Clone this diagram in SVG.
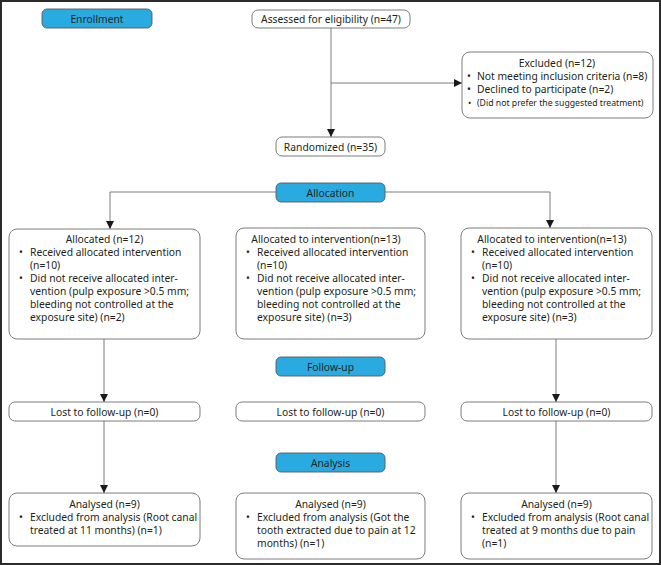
<svg xmlns="http://www.w3.org/2000/svg" width="661" height="565" viewBox="0 0 661 565">
<defs>
<marker id="arr" viewBox="0 0 10 10" refX="10" refY="5" markerWidth="8" markerHeight="8" markerUnits="userSpaceOnUse" orient="auto">
<path d="M0,0 L10,5 L0,10 Z" fill="#1a1a1a"/>
</marker>
<style>
text{font-family:"Noto Sans","Liberation Sans",sans-serif;font-size:10.3px;fill:#231f20}
.c{text-anchor:middle}
.box{fill:#fff;stroke:#6d6e71;stroke-width:0.9}
.hd{fill:#29abe2;stroke:#58595b;stroke-width:0.9}
.ln{fill:none;stroke:#6d6e71;stroke-width:0.9}
.sm{font-size:8.7px}
</style>
</defs>
<rect x="1" y="1" width="659" height="563" fill="#fff" stroke="#2b2b2b" stroke-width="2"/>

<g id="connectors">
<line class="ln" x1="331" y1="28" x2="331" y2="137" marker-end="url(#arr)"/>
<line class="ln" x1="331" y1="83" x2="462" y2="83" marker-end="url(#arr)"/>
<polyline class="ln" points="276,192 110,192 110,229" marker-end="url(#arr)"/>
<polyline class="ln" points="385,192 550,192 550,228" marker-end="url(#arr)"/>
<line class="ln" x1="104" y1="339" x2="104" y2="402" marker-end="url(#arr)"/>
<line class="ln" x1="104" y1="421" x2="104" y2="493" marker-end="url(#arr)"/>
<line class="ln" x1="556" y1="339" x2="556" y2="402" marker-end="url(#arr)"/>
<line class="ln" x1="556" y1="421" x2="556" y2="493" marker-end="url(#arr)"/>
</g>

<g id="enrollment">
<rect class="hd" x="42" y="9" width="110" height="19" rx="5"/>
<text class="c" x="97" y="22.5">Enrollment</text>
</g>

<g id="assessed">
<rect class="box" x="252" y="10" width="158" height="18" rx="6"/>
<text class="c" x="331" y="23">Assessed for eligibility (n=47)</text>
</g>

<g id="excluded">
<rect class="box" x="462" y="52" width="191" height="66" rx="8"/>
<text class="c" x="557" y="67">Excluded (n=12)</text>
<text x="467" y="80">•</text><text x="477" y="80">Not meeting inclusion criteria (n=8)</text>
<text x="467" y="93">•</text><text x="477" y="93">Declined to participate (n=2)</text>
<text class="sm" x="468" y="106">•</text><text class="sm" x="477" y="106">(Did not prefer the suggested treatment)</text>
</g>

<g id="randomized">
<rect class="box" x="276" y="137" width="109" height="19" rx="6"/>
<text class="c" x="330.5" y="150.5">Randomized (n=35)</text>
</g>

<g id="allocation">
<rect class="hd" x="276" y="183" width="109" height="19" rx="5"/>
<text class="c" x="330.5" y="196.5">Allocation</text>
</g>

<g id="alloc-left">
<rect class="box" x="9" y="229" width="191" height="110" rx="8"/>
<text class="c" x="104.5" y="243">Allocated (n=12)</text>
<text x="19" y="256">•</text><text x="30" y="256">Received allocated intervention</text>
<text x="30" y="269">(n=10)</text>
<text x="19" y="282">•</text><text x="30" y="282">Did not receive allocated inter-</text>
<text x="30" y="295">vention (pulp exposure &gt;0.5 mm;</text>
<text x="30" y="308">bleeding not controlled at the</text>
<text x="30" y="321">exposure site) (n=2)</text>
</g>

<g id="alloc-mid">
<rect class="box" x="236" y="228" width="189" height="111" rx="8"/>
<text class="c" x="326" y="243">Allocated to intervention(n=13)</text>
<text x="246" y="256">•</text><text x="257" y="256">Received allocated intervention</text>
<text x="257" y="269">(n=10)</text>
<text x="246" y="282">•</text><text x="257" y="282">Did not receive allocated inter-</text>
<text x="257" y="295">vention (pulp exposure &gt;0.5 mm;</text>
<text x="257" y="308">bleeding not controlled at the</text>
<text x="257" y="321">exposure site) (n=3)</text>
</g>

<g id="alloc-right">
<rect class="box" x="461" y="228" width="191" height="111" rx="8"/>
<text class="c" x="552" y="243">Allocated to intervention(n=13)</text>
<text x="471" y="256">•</text><text x="482" y="256">Received allocated intervention</text>
<text x="482" y="269">(n=10)</text>
<text x="471" y="282">•</text><text x="482" y="282">Did not receive allocated inter-</text>
<text x="482" y="295">vention (pulp exposure &gt;0.5 mm;</text>
<text x="482" y="308">bleeding not controlled at the</text>
<text x="482" y="321">exposure site) (n=3)</text>
</g>

<g id="followup">
<rect class="hd" x="276" y="357" width="109" height="19" rx="5"/>
<text class="c" x="330.5" y="370.5">Follow-up</text>
</g>

<g id="lost-left">
<rect class="box" x="9" y="402" width="191" height="19" rx="6"/>
<text class="c" x="104.5" y="415.5">Lost to follow-up (n=0)</text>
</g>
<g id="lost-mid">
<rect class="box" x="236" y="402" width="189" height="19" rx="6"/>
<text class="c" x="330.5" y="415.5">Lost to follow-up (n=0)</text>
</g>
<g id="lost-right">
<rect class="box" x="461" y="402" width="191" height="19" rx="6"/>
<text class="c" x="556.5" y="415.5">Lost to follow-up (n=0)</text>
</g>

<g id="analysis">
<rect class="hd" x="276" y="453" width="109" height="19" rx="5"/>
<text class="c" x="330.5" y="466.5">Analysis</text>
</g>

<g id="analysed-left">
<rect class="box" x="9" y="493" width="191" height="53" rx="8"/>
<text class="c" x="104.5" y="508">Analysed (n=9)</text>
<text x="19" y="521">•</text><text x="30" y="521">Excluded from analysis (Root canal</text>
<text x="30" y="534">treated at 11 months) (n=1)</text>
</g>
<g id="analysed-mid">
<rect class="box" x="236" y="493" width="189" height="66" rx="8"/>
<text class="c" x="330.5" y="508">Analysed (n=9)</text>
<text x="246" y="521">•</text><text x="257" y="521">Excluded from analysis (Got the</text>
<text x="257" y="534">tooth extracted due to pain at 12</text>
<text x="257" y="547">months) (n=1)</text>
</g>
<g id="analysed-right">
<rect class="box" x="461" y="493" width="191" height="66" rx="8"/>
<text class="c" x="556.5" y="508">Analysed (n=9)</text>
<text x="471" y="521">•</text><text x="482" y="521">Excluded from analysis (Root canal</text>
<text x="482" y="534">treated at 9 months due to pain</text>
<text x="482" y="547">(n=1)</text>
</g>
</svg>
